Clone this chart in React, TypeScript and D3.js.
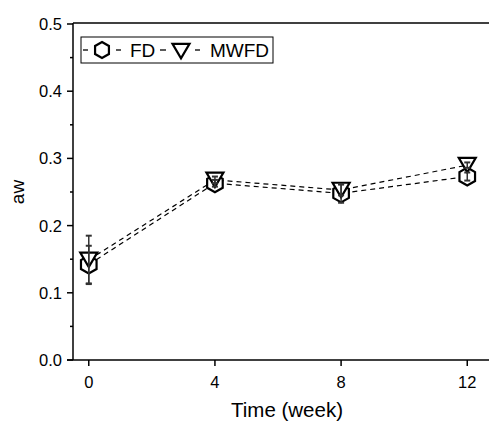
import React from "react";
import * as d3 from "d3";

// Sampling times (weeks)
const weeks = [0, 4, 8, 12];
// Water activity, freeze-dried (FD)
const fdValues = [0.142, 0.263, 0.248, 0.273];
const fdErrors = [0.028, 0.005, 0.014, 0.006];
// Water activity, microwave freeze-dried (MWFD)
const mwfdValues = [0.149, 0.268, 0.253, 0.29];
const mwfdErrors = [0.036, 0.005, 0.008, 0.004];

const xTicks = [0, 4, 8, 12];
const yTicks = [0, 0.1, 0.2, 0.3, 0.4, 0.5];
const yMinorTicks = [0.05, 0.15, 0.25, 0.35, 0.45];

const W = 489;
const H = 421;
const left = 73;
const top = 24;
const bottom = 360;
const right = 501;
const FONT = "'Liberation Sans', Arial, Helvetica, sans-serif";

const x = d3.scaleLinear().domain([-0.5, 13.07]).range([left, right]);
const y = d3.scaleLinear().domain([0, 0.5]).range([bottom, top]);

function hexPath(cx: number, cy: number, r: number) {
  const pts = d3.range(6).map((i) => {
    const a = (Math.PI / 3) * i - Math.PI / 2;
    return [cx + r * Math.cos(a), cy + r * Math.sin(a)] as [number, number];
  });
  return d3.line()(pts.concat([pts[0]])) + "Z";
}

function triDownPath(cx: number, cy: number, s: number) {
  const h = s * 0.85;
  const pts: [number, number][] = [
    [cx - s / 2, cy - h / 2],
    [cx + s / 2, cy - h / 2],
    [cx, cy + h / 2],
  ];
  return d3.line()(pts) + "Z";
}

type Series = {
  name: string;
  values: number[];
  errors: number[];
  marker: (cx: number, cy: number) => string;
};

const series: Series[] = [
  { name: "FD", values: fdValues, errors: fdErrors, marker: (cx, cy) => hexPath(cx, cy, 9) },
  { name: "MWFD", values: mwfdValues, errors: mwfdErrors, marker: (cx, cy) => triDownPath(cx, cy, 17) },
];

const legendDashes = [
  [83, 88],
  [116, 121],
  [160, 166],
  [195, 200],
];

export default function App() {
  const line = d3
    .line<number>()
    .x((_, i) => x(weeks[i]))
    .y((v) => y(v));

  return (
    <svg width={W} height={H} style={{ display: "block", position: "absolute", left: 0, top: 0 }}>
      <rect width={W} height={H} fill="#fff" />

      {/* frame */}
      <line x1={left} x2={W + 2} y1={top - 1} y2={top - 1} stroke="#000" strokeWidth={1.5} />
      <line x1={left} x2={left} y1={top - 1} y2={bottom} stroke="#000" strokeWidth={1.5} />
      <line x1={left - 6} x2={W + 2} y1={bottom} y2={bottom} stroke="#000" strokeWidth={1.5} />

      {/* y axis ticks */}
      {yTicks.map((t) => (
        <g key={"y" + t}>
          <line x1={left - 6} x2={left} y1={y(t)} y2={y(t)} stroke="#000" strokeWidth={1.5} />
          <text
            x={left - 11}
            y={y(t)}
            dy="0.36em"
            textAnchor="end"
            fontFamily={FONT}
            fontSize={16.5}
            fill="#000"
          >
            {d3.format(".1f")(t)}
          </text>
        </g>
      ))}
      {yMinorTicks.map((t) => (
        <line key={"ym" + t} x1={left - 3} x2={left} y1={y(t)} y2={y(t)} stroke="#000" strokeWidth={1.5} />
      ))}

      {/* x axis ticks */}
      {xTicks.map((t) => (
        <g key={"x" + t}>
          <line x1={x(t)} x2={x(t)} y1={bottom} y2={bottom + 6} stroke="#000" strokeWidth={1.5} />
          <text x={x(t)} y={bottom + 28} textAnchor="middle" fontFamily={FONT} fontSize={16.5} fill="#000">
            {t}
          </text>
        </g>
      ))}

      {/* axis titles */}
      <text x={(left + right) / 2} y={bottom + 57} textAnchor="middle" fontFamily={FONT} fontSize={20.5} fill="#000">
        Time (week)
      </text>
      <text
        transform={`translate(24,${(top + bottom) / 2}) rotate(-90)`}
        textAnchor="middle"
        fontFamily={FONT}
        fontSize={19}
        fill="#000"
      >
        aw
      </text>

      {/* dashed connecting lines */}
      {series.map((s) => (
        <path key={"l" + s.name} d={line(s.values) || ""} fill="none" stroke="#000" strokeWidth={1.2} strokeDasharray="5,4" />
      ))}

      {/* markers */}
      {series.map((s) =>
        s.values.map((v, i) => (
          <path key={"m" + s.name + i} d={s.marker(x(weeks[i]), y(v))} fill="#fff" stroke="#000" strokeWidth={2.2} strokeLinejoin="miter" />
        ))
      )}

      {/* error bars */}
      {series.map((s) =>
        s.values.map((v, i) => {
          const cx = x(weeks[i]);
          const y1 = y(v + s.errors[i]);
          const y2 = y(v - s.errors[i]);
          return (
            <g key={"e" + s.name + i} stroke="#333" strokeWidth={1.5}>
              <line x1={cx} x2={cx} y1={y1} y2={y2} />
              <line x1={cx - 3} x2={cx + 3} y1={y1} y2={y1} strokeWidth={2} />
              <line x1={cx - 3} x2={cx + 3} y1={y2} y2={y2} strokeWidth={2} />
            </g>
          );
        })
      )}

      {/* legend */}
      <g>
        <rect x={81} y={37} width={192} height={26} fill="#fff" stroke="#000" strokeWidth={1} />
        {legendDashes.map(([a, b], i) => (
          <line key={"ld" + i} x1={a} x2={b} y1={50} y2={50} stroke="#000" strokeWidth={1.3} />
        ))}
        <path d={hexPath(102, 50, 8)} fill="#fff" stroke="#000" strokeWidth={2.2} />
        <text x={130} y={57} fontFamily={FONT} fontSize={19} fill="#000">FD</text>
        <path d={triDownPath(181, 51, 17)} fill="#fff" stroke="#000" strokeWidth={2.2} />
        <text x={210} y={57} fontFamily={FONT} fontSize={19} fill="#000">MWFD</text>
      </g>
    </svg>
  );
}
